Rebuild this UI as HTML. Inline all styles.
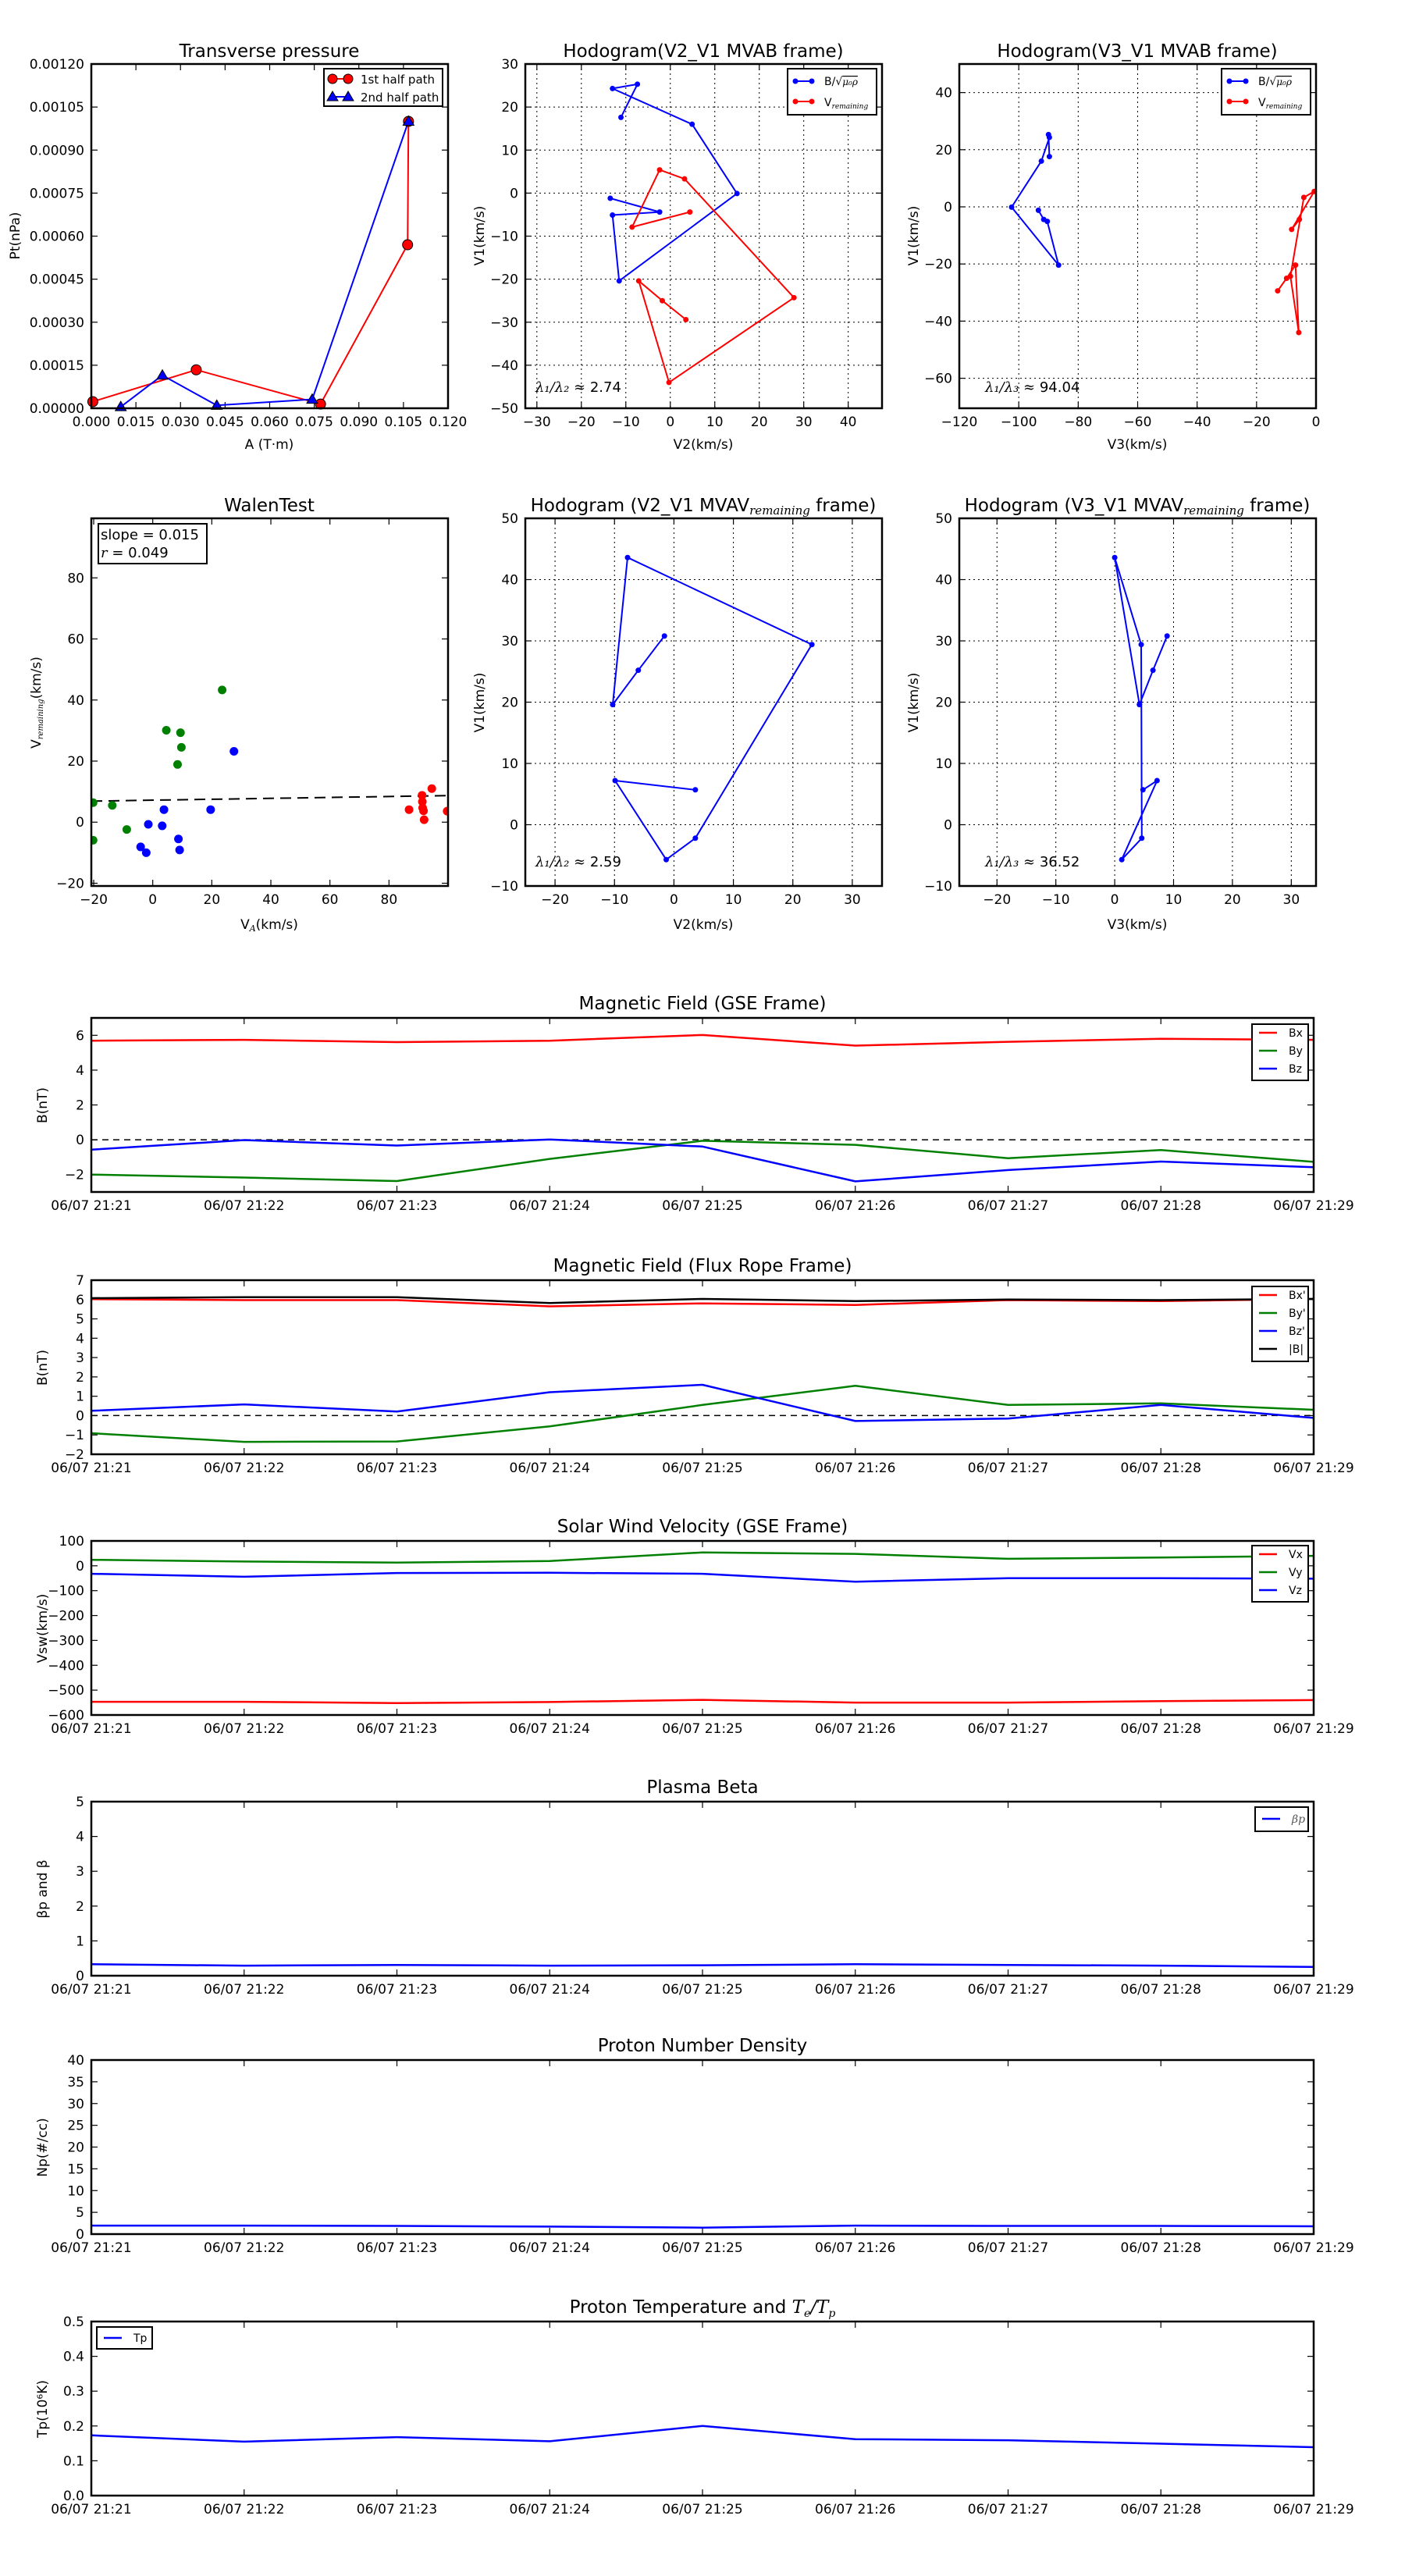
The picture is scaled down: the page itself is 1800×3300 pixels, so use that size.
<!DOCTYPE html>
<html><head><meta charset="utf-8"><title>Flux rope analysis</title>
<style>
html,body{margin:0;padding:0;background:#fff;}
svg{display:block;font-family:"DejaVu Sans","Liberation Sans",sans-serif;}
</style></head>
<body>
<svg id="fig" xmlns="http://www.w3.org/2000/svg" width="1800" height="3300" viewBox="0 0 1800 3300">
<rect x="0" y="0" width="1800" height="3300" fill="#fff"/>
</svg>
<script>
// ---------- DATA ----------
const tp1A = [0.0005, 0.0353, 0.0771, 0.1064, 0.1067];
const tp1P = [0.000023, 0.000134, 0.0000146, 0.00057, 0.001];
const tp2A = [0.0099, 0.0239, 0.0422, 0.0743, 0.1067];
const tp2P = [0.000005, 0.000115, 0.00001, 0.000031, 0.001];
const mvabB_V2 = [-11.1, -7.4, -13.0, 4.9, 15.0, -11.5, -13.0, -2.4, -13.5];
const mvabB_V1 = [17.6, 25.3, 24.3, 16.0, -0.1, -20.4, -5.1, -4.4, -1.2];
const mvabV_V2 = [4.4, -8.6, -2.4, 3.2, 27.8, -0.3, -7.1, -1.8, 3.5];
const mvabV_V1 = [-4.4, -7.9, 5.4, 3.3, -24.3, -44.0, -20.4, -25.0, -29.4];
const mvabB_V3 = [-89.7, -90.0, -89.7, -92.4, -102.4, -86.6, -90.4, -91.6, -93.4];
const mvabV_V3 = [-5.6, -8.2, -0.6, -4.1, -8.6, -5.8, -6.9, -9.9, -12.9];
const mvav_V2 = [-1.6, -6.0, -10.3, -7.8, 23.2, 3.6, -1.3, -9.9, 3.6];
const mvav_V3 = [8.9, 6.5, 4.2, 0.0, 4.5, 4.6, 1.2, 7.2, 4.8];
const mvav_V1 = [30.8, 25.2, 19.6, 43.6, 29.4, -2.2, -5.7, 7.2, 5.7];
const walenGx = [-20.2, -20.2, -13.7, -8.8, 4.6, 9.4, 9.7, 8.4, 23.5];
const walenGy = [6.4, -5.9, 5.5, -2.4, 30.1, 29.3, 24.5, 18.9, 43.3];
const walenBx = [-4.1, -2.2, -1.5, 3.2, 3.8, 8.7, 9.1, 19.6, 27.5];
const walenBy = [-8.1, -10.0, -0.7, -1.2, 4.1, -5.5, -9.1, 4.1, 23.2];
const walenRx = [86.8, 91.2, 91.3, 91.4, 91.7, 91.9, 94.5, 99.7];
const walenRy = [4.1, 8.8, 6.7, 4.7, 3.7, 0.8, 11.0, 3.6];
const walenSlope = 0.015;
const walenIntercept = 7.2;
const timeLabels = ["06/07 21:21","06/07 21:22","06/07 21:23","06/07 21:24","06/07 21:25","06/07 21:26","06/07 21:27","06/07 21:28","06/07 21:29"];
const gseBx = [5.69, 5.74, 5.61, 5.69, 6.02, 5.41, 5.63, 5.80, 5.74];
const gseBy = [-2.0, -2.17, -2.37, -1.10, -0.06, -0.29, -1.06, -0.59, -1.27];
const gseBz = [-0.57, -0.02, -0.33, 0.02, -0.39, -2.39, -1.74, -1.25, -1.58];
const frBx = [6.02, 5.97, 5.97, 5.65, 5.80, 5.72, 5.97, 5.92, 6.03];
const frBy = [-0.91, -1.36, -1.34, -0.56, 0.55, 1.54, 0.55, 0.63, 0.30];
const frBz = [0.25, 0.58, 0.21, 1.21, 1.59, -0.28, -0.15, 0.55, -0.12];
const frBt = [6.07, 6.12, 6.12, 5.82, 6.03, 5.92, 6.0, 5.97, 6.03];
const vswX = [-547, -547, -552, -548, -539, -550, -550, -544, -540];
const vswY = [24, 17, 13, 19, 54, 48, 28, 33, 40];
const vswZ = [-32, -44, -29, -28, -32, -64, -50, -50, -52];
const betaP = [0.33, 0.29, 0.31, 0.29, 0.30, 0.33, 0.31, 0.29, 0.25];
const npData = [1.95, 1.95, 1.88, 1.72, 1.48, 1.95, 1.88, 1.88, 1.8];
const tpData = [0.173, 0.155, 0.168, 0.156, 0.200, 0.162, 0.159, 0.149, 0.139];

// ---------- HELPERS ----------
const NS = 'http://www.w3.org/2000/svg';
const svg = document.getElementById('fig');
function mk(tag, parent, name, attrs) {
  const el = document.createElementNS(NS, tag);
  
  
  for (const k in attrs) el.setAttribute(k, attrs[k]);
  parent.appendChild(el);
  return el;
}
function txt(parent, name, x, y, s, size, anchor, extra) {
  const t = mk('text', parent, name, Object.assign({x: x, y: y, 'font-size': size, 'text-anchor': anchor || 'start', fill: '#000'}, extra || {}));
  t.textContent = s;
  return t;
}
function fmtNum(v, d) { const s = Math.abs(v).toFixed(d); return (v < -1e-12 ? '\u2212' : '') + s; }

function axes(o) {
  const g = mk('g', svg, o.name, {});
  const sx = v => o.x + (v - o.xmin) / (o.xmax - o.xmin) * o.w;
  const sy = v => o.y + o.h - (v - o.ymin) / (o.ymax - o.ymin) * o.h;
  mk('rect', g, 'plot-area', {x: o.x, y: o.y, width: o.w, height: o.h, fill: '#fff'});
  const cid = 'clip-' + o.name;
  const cp = mk('clipPath', g, 'clip', {id: cid});
  mk('rect', cp, 'clip-rect', {x: o.x, y: o.y, width: o.w, height: o.h});
  if (o.grid) {
    o.xticks.forEach(v => { const X = sx(v); mk('line', g, 'x-grid-line', {x1: X, x2: X, y1: o.y, y2: o.y + o.h, stroke: '#000', 'stroke-width': 1, 'stroke-dasharray': '2,4'}); });
    o.yticks.forEach(v => { const Y = sy(v); mk('line', g, 'y-grid-line', {x1: o.x, x2: o.x + o.w, y1: Y, y2: Y, stroke: '#000', 'stroke-width': 1, 'stroke-dasharray': '2,4'}); });
  }
  const tl = 8;
  o.xticks.forEach((v, i) => {
    const X = sx(v);
    mk('line', g, 'x-tick', {x1: X, x2: X, y1: o.y + o.h, y2: o.y + o.h - tl, stroke: '#000', 'stroke-width': 1.2});
    mk('line', g, 'x-tick-top', {x1: X, x2: X, y1: o.y, y2: o.y + tl, stroke: '#000', 'stroke-width': 1.2});
    const lab = o.xlabels ? o.xlabels[i] : o.xfmt(v);
    txt(g, 'x-tick-label', X, o.y + o.h + 23, lab, 17, 'middle');
  });
  o.yticks.forEach(v => {
    const Y = sy(v);
    mk('line', g, 'y-tick', {x1: o.x, x2: o.x + tl, y1: Y, y2: Y, stroke: '#000', 'stroke-width': 1.2});
    mk('line', g, 'y-tick-right', {x1: o.x + o.w, x2: o.x + o.w - tl, y1: Y, y2: Y, stroke: '#000', 'stroke-width': 1.2});
    txt(g, 'y-tick-label', o.x - 9, Y + 6, o.yfmt(v), 17, 'end');
  });
  const data = mk('g', g, 'data-layer', o.clip ? {'clip-path': 'url(#' + cid + ')'} : {});
  const frame = () => mk('rect', g, 'axes-frame', {x: o.x, y: o.y, width: o.w, height: o.h, fill: 'none', stroke: '#000', 'stroke-width': 2.5});
  return {g, sx, sy, data, frame, o};
}
function polyline(ax, xs, ys, color, name, w) {
  const pts = xs.map((v, i) => ax.sx(v).toFixed(1) + ',' + ax.sy(ys[i]).toFixed(1)).join(' ');
  return mk('polyline', ax.data, name, {points: pts, fill: 'none', stroke: color, 'stroke-width': w || 2, 'stroke-linejoin': 'round'});
}
function dots(ax, xs, ys, color, name, r, stroke) {
  xs.forEach((v, i) => {
    const c = mk('circle', ax.data, name, {cx: ax.sx(v), cy: ax.sy(ys[i]), r: r, fill: color});
    if (stroke) { c.setAttribute('stroke', '#000'); c.setAttribute('stroke-width', 1); }
  });
}
function tris(ax, xs, ys, color, name) {
  xs.forEach((v, i) => {
    const X = ax.sx(v), Y = ax.sy(ys[i]);
    mk('polygon', ax.data, name, {points: (X) + ',' + (Y - 7) + ' ' + (X - 7) + ',' + (Y + 5) + ' ' + (X + 7) + ',' + (Y + 5), fill: color, stroke: '#000', 'stroke-width': 1});
  });
}
function title(x, y, s, name) { return txt(svg, name, x, y, s, 23, 'middle'); }
function xlabel(x, y, s, name) { return txt(svg, name, x, y, s, 17, 'middle'); }
function ylabel(x, y, s, name) { return txt(svg, name, x, y, s, 17, 'middle', {transform: 'rotate(-90 ' + x + ' ' + y + ')'}); }
function range(a, b, s) { const r = []; for (let v = a; v <= b + 1e-9; v += s) r.push(+v.toFixed(8)); return r; }

// ---------- ROW 1 ----------
(function () {
  const ax = axes({name: 'transverse-pressure-chart', x: 117, y: 82, w: 457, h: 441, xmin: 0, xmax: 0.12, ymin: 0, ymax: 0.0012,
    xticks: range(0, 0.12, 0.015), yticks: range(0, 0.0012, 0.00015), xfmt: v => v.toFixed(3), yfmt: v => v.toFixed(5)});
  polyline(ax, tp1A, tp1P, '#f00', 'first-half-line');
  polyline(ax, tp2A, tp2P, '#00f', 'second-half-line');
  dots(ax, tp1A, tp1P, '#f00', 'first-half-marker', 6.5, true);
  tris(ax, tp2A, tp2P, '#00f', 'second-half-marker');
  ax.frame();
  const lg = mk('g', svg, 'legend', {});
  mk('rect', lg, 'legend-box', {x: 415, y: 88, width: 152, height: 48, fill: '#fff', stroke: '#000', 'stroke-width': 2});
  mk('line', lg, 'legend-line-first', {x1: 426, x2: 446, y1: 101, y2: 101, stroke: '#f00', 'stroke-width': 2});
  mk('circle', lg, 'legend-marker-first', {cx: 426, cy: 101, r: 6, fill: '#f00', stroke: '#000'});
  mk('circle', lg, 'legend-marker-first', {cx: 446, cy: 101, r: 6, fill: '#f00', stroke: '#000'});
  txt(lg, 'legend-entry-first', 462, 107, '1st half path', 15);
  mk('line', lg, 'legend-line-second', {x1: 426, x2: 446, y1: 124, y2: 124, stroke: '#00f', 'stroke-width': 2});
  mk('polygon', lg, 'legend-marker-second', {points: '426,117 419,129 433,129', fill: '#00f', stroke: '#000'});
  mk('polygon', lg, 'legend-marker-second', {points: '446,117 439,129 453,129', fill: '#00f', stroke: '#000'});
  txt(lg, 'legend-entry-second', 462, 130, '2nd half path', 15);
  title(345, 73, 'Transverse pressure', 'chart-title');
  xlabel(345, 575, 'A (T\u00b7m)', 'x-axis-title');
  ylabel(25, 302, 'Pt(nPa)', 'y-axis-title');
})();

function hodoLegend(x0, y0) {
  const lg = mk('g', svg, 'legend', {});
  mk('rect', lg, 'legend-box', {x: x0, y: y0, width: 114, height: 59, fill: '#fff', stroke: '#000', 'stroke-width': 2});
  mk('line', lg, 'legend-line-b', {x1: x0 + 10, x2: x0 + 31, y1: y0 + 16, y2: y0 + 16, stroke: '#00f', 'stroke-width': 2});
  mk('circle', lg, 'legend-marker-b', {cx: x0 + 10, cy: y0 + 16, r: 3.5, fill: '#00f'});
  mk('circle', lg, 'legend-marker-b', {cx: x0 + 31, cy: y0 + 16, r: 3.5, fill: '#00f'});
  const t1 = txt(lg, 'legend-entry-b', x0 + 47, y0 + 21, 'B/\u221a', 14);
  const s1 = mk('tspan', t1, 'legend-entry-b-sub', {'font-style': 'italic', 'font-family': 'DejaVu Serif, serif', 'font-size': 12, 'text-decoration': 'overline'});
  s1.textContent = '\u03bc\u2080\u03c1';
  mk('line', lg, 'legend-line-v', {x1: x0 + 10, x2: x0 + 31, y1: y0 + 42, y2: y0 + 42, stroke: '#f00', 'stroke-width': 2});
  mk('circle', lg, 'legend-marker-v', {cx: x0 + 10, cy: y0 + 42, r: 3.5, fill: '#f00'});
  mk('circle', lg, 'legend-marker-v', {cx: x0 + 31, cy: y0 + 42, r: 3.5, fill: '#f00'});
  const t2 = txt(lg, 'legend-entry-v', x0 + 47, y0 + 48, 'V', 14);
  const s2 = mk('tspan', t2, 'legend-entry-v-sub', {'font-style': 'italic', 'font-family': 'DejaVu Serif, serif', 'font-size': 9, dy: 3});
  s2.textContent = 'remaining';
}
function ratioText(x, y, l, v) {
  const t = txt(svg, 'eigenvalue-ratio', x, y, '', 18);
  const a = mk('tspan', t, 'ratio-symbol', {'font-style': 'italic', 'font-family': 'DejaVu Serif, serif'});
  a.textContent = '\u03bb\u2081/' + '\u03bb' + l + ' \u2248 ';
  const b = mk('tspan', t, 'ratio-value', {});
  b.textContent = v;
}

(function () {
  const ax = axes({name: 'hodogram-v2-v1-mvab', x: 673, y: 82, w: 457, h: 441, xmin: -32.6, xmax: 47.6, ymin: -50, ymax: 30, grid: true,
    xticks: range(-30, 40, 10), yticks: range(-50, 30, 10), xfmt: v => fmtNum(v, 0), yfmt: v => fmtNum(v, 0)});
  polyline(ax, mvabB_V2, mvabB_V1, '#00f', 'b-hodogram-line');
  dots(ax, mvabB_V2, mvabB_V1, '#00f', 'b-hodogram-point', 3.5);
  polyline(ax, mvabV_V2, mvabV_V1, '#f00', 'v-hodogram-line');
  dots(ax, mvabV_V2, mvabV_V1, '#f00', 'v-hodogram-point', 3.5);
  ax.frame();
  hodoLegend(1009, 88);
  ratioText(686, 502, '\u2082', '2.74');
  title(901, 73, 'Hodogram(V2_V1 MVAB frame)', 'chart-title');
  xlabel(901, 575, 'V2(km/s)', 'x-axis-title');
  ylabel(620, 302, 'V1(km/s)', 'y-axis-title');
})();

(function () {
  const ax = axes({name: 'hodogram-v3-v1-mvab', x: 1229, y: 82, w: 457, h: 441, xmin: -120, xmax: 0, ymin: -70.5, ymax: 50, grid: true,
    xticks: range(-120, 0, 20), yticks: range(-60, 40, 20), xfmt: v => fmtNum(v, 0), yfmt: v => fmtNum(v, 0)});
  polyline(ax, mvabB_V3, mvabB_V1, '#00f', 'b-hodogram-line');
  dots(ax, mvabB_V3, mvabB_V1, '#00f', 'b-hodogram-point', 3.5);
  polyline(ax, mvabV_V3, mvabV_V1, '#f00', 'v-hodogram-line');
  dots(ax, mvabV_V3, mvabV_V1, '#f00', 'v-hodogram-point', 3.5);
  ax.frame();
  hodoLegend(1565, 88);
  ratioText(1262, 502, '\u2083', '94.04');
  title(1457, 73, 'Hodogram(V3_V1 MVAB frame)', 'chart-title');
  xlabel(1457, 575, 'V3(km/s)', 'x-axis-title');
  ylabel(1176, 302, 'V1(km/s)', 'y-axis-title');
})();

// ---------- ROW 2 ----------
(function () {
  const ax = axes({name: 'walen-test-chart', x: 117, y: 664, w: 457, h: 471, xmin: -20.8, xmax: 100, ymin: -20.9, ymax: 99.5, clip: true,
    xticks: range(-20, 80, 20), yticks: range(-20, 80, 20), xfmt: v => fmtNum(v, 0), yfmt: v => fmtNum(v, 0)});
  const fx = [ax.o.xmin, ax.o.xmax];
  const fy = fx.map(v => walenIntercept + walenSlope * v);
  const fl = polyline(ax, fx, fy, '#000', 'fit-line', 2);
  fl.setAttribute('stroke-dasharray', '14,8');
  dots(ax, walenGx, walenGy, '#008000', 'walen-point-green', 5.5);
  dots(ax, walenBx, walenBy, '#00f', 'walen-point-blue', 5.5);
  dots(ax, walenRx, walenRy, '#f00', 'walen-point-red', 5.5);
  ax.frame();
  const bx = mk('g', svg, 'fit-stats-box', {});
  mk('rect', bx, 'stats-box-frame', {x: 126, y: 671, width: 139, height: 51, fill: '#fff', stroke: '#000', 'stroke-width': 2});
  txt(bx, 'slope-text', 129, 691, 'slope = ' + walenSlope.toFixed(3), 18);
  const rt = txt(bx, 'r-text', 129, 714, '', 18);
  const ri = mk('tspan', rt, 'r-symbol', {'font-style': 'italic', 'font-family': 'DejaVu Serif, serif'});
  ri.textContent = 'r';
  const rv = mk('tspan', rt, 'r-value', {});
  rv.textContent = ' = 0.049';
  title(345, 655, 'WalenTest', 'chart-title');
  const xl = xlabel(345, 1190, 'V', 'x-axis-title');
  const xs = mk('tspan', xl, 'x-axis-title-sub', {'font-style': 'italic', 'font-family': 'DejaVu Serif, serif', 'font-size': 11, dy: 3});
  xs.textContent = 'A';
  const xr = mk('tspan', xl, 'x-axis-title-unit', {dy: -3});
  xr.textContent = '(km/s)';
  const yl = ylabel(52, 900, 'V', 'y-axis-title');
  const ys = mk('tspan', yl, 'y-axis-title-sub', {'font-style': 'italic', 'font-family': 'DejaVu Serif, serif', 'font-size': 10, dy: 3});
  ys.textContent = 'remaining';
  const yr = mk('tspan', yl, 'y-axis-title-unit', {dy: -3});
  yr.textContent = '(km/s)';
})();

function mvavTitle(x, s1, s2) {
  const t = title(x, 655, s1, 'chart-title');
  const sub = mk('tspan', t, 'chart-title-sub', {'font-style': 'italic', 'font-family': 'DejaVu Serif, serif', 'font-size': 15, dy: 4});
  sub.textContent = 'remaining';
  const rest = mk('tspan', t, 'chart-title-rest', {dy: -4});
  rest.textContent = s2;
}
(function () {
  const ax = axes({name: 'hodogram-v2-v1-mvav', x: 673, y: 664, w: 457, h: 471, xmin: -25, xmax: 35, ymin: -10, ymax: 50, grid: true,
    xticks: range(-20, 30, 10), yticks: range(-10, 50, 10), xfmt: v => fmtNum(v, 0), yfmt: v => fmtNum(v, 0)});
  polyline(ax, mvav_V2, mvav_V1, '#00f', 'hodogram-line');
  dots(ax, mvav_V2, mvav_V1, '#00f', 'hodogram-point', 3.5);
  ax.frame();
  ratioText(686, 1110, '\u2082', '2.59');
  mvavTitle(901, 'Hodogram (V2_V1 MVAV', ' frame)');
  xlabel(901, 1190, 'V2(km/s)', 'x-axis-title');
  ylabel(620, 900, 'V1(km/s)', 'y-axis-title');
})();
(function () {
  const ax = axes({name: 'hodogram-v3-v1-mvav', x: 1229, y: 664, w: 457, h: 471, xmin: -26.4, xmax: 34.2, ymin: -10, ymax: 50, grid: true,
    xticks: range(-20, 30, 10), yticks: range(-10, 50, 10), xfmt: v => fmtNum(v, 0), yfmt: v => fmtNum(v, 0)});
  polyline(ax, mvav_V3, mvav_V1, '#00f', 'hodogram-line');
  dots(ax, mvav_V3, mvav_V1, '#00f', 'hodogram-point', 3.5);
  ax.frame();
  ratioText(1262, 1110, '\u2083', '36.52');
  mvavTitle(1457, 'Hodogram (V3_V1 MVAV', ' frame)');
  xlabel(1457, 1190, 'V3(km/s)', 'x-axis-title');
  ylabel(1176, 900, 'V1(km/s)', 'y-axis-title');
})();

// ---------- TIME SERIES ----------
const tIdx = timeLabels.map((_, i) => i);
function tsPanel(o) {
  const ax = axes({name: o.name, x: 117, y: o.y, w: 1566, h: 223, xmin: 0, xmax: 8, ymin: o.ymin, ymax: o.ymax, clip: true,
    xticks: tIdx, xlabels: timeLabels, yticks: o.yticks, xfmt: v => v, yfmt: o.yfmt});
  if (o.zero) {
    const z = polyline(ax, [0, 8], [0, 0], '#000', 'zero-line', 1.5);
    z.setAttribute('stroke-dasharray', '8,6');
  }
  o.series.forEach(s => polyline(ax, tIdx, s.v, s.c, s.n, 2.5));
  ax.frame();
  if (o.legend) {
    const L = o.legend;
    const lg = mk('g', svg, 'legend', {});
    const h = 14 + 23 * o.series.length;
    mk('rect', lg, 'legend-box', {x: L.x, y: L.y, width: L.w, height: L.h || h, fill: '#fff', stroke: '#000', 'stroke-width': 2});
    o.series.forEach((s, i) => {
      const yy = L.y + 11 + 23 * i + (L.dy || 0);
      mk('line', lg, 'legend-swatch', {x1: L.x + 9, x2: L.x + 32, y1: yy, y2: yy, stroke: s.c, 'stroke-width': 2.5});
      const t = txt(lg, 'legend-entry', L.x + 47, yy + 5, s.label, 14);
      if (s.italic) { t.setAttribute('font-style', 'italic'); t.setAttribute('font-family', 'DejaVu Serif, serif'); t.setAttribute('fill', '#555'); }
    });
  }
  const tt = title(900, o.y - 11, o.title, 'chart-title');
  ylabel(60, o.y + 112, o.ylabel, 'y-axis-title');
  return tt;
}
tsPanel({name: 'magnetic-field-gse-chart', y: 1304, ymin: -3, ymax: 7, yticks: [-2, 0, 2, 4, 6], yfmt: v => v < 0 ? '\u2212' + (-v) : '' + v, zero: true,
  title: 'Magnetic Field (GSE Frame)', ylabel: 'B(nT)',
  series: [{v: gseBx, c: '#f00', n: 'bx-line', label: 'Bx'}, {v: gseBy, c: '#008000', n: 'by-line', label: 'By'}, {v: gseBz, c: '#00f', n: 'bz-line', label: 'Bz'}],
  legend: {x: 1604, y: 1312, w: 72, h: 72}});
tsPanel({name: 'magnetic-field-flux-rope-chart', y: 1640, ymin: -2, ymax: 7, yticks: range(-2, 7, 1), yfmt: v => v < 0 ? '\u2212' + (-v) : '' + v, zero: true,
  title: 'Magnetic Field (Flux Rope Frame)', ylabel: 'B(nT)',
  series: [{v: frBx, c: '#f00', n: 'bx-prime-line', label: "Bx'"}, {v: frBy, c: '#008000', n: 'by-prime-line', label: "By'"}, {v: frBz, c: '#00f', n: 'bz-prime-line', label: "Bz'"}, {v: frBt, c: '#000', n: 'b-total-line', label: '|B|'}],
  legend: {x: 1604, y: 1648, w: 72, h: 96}});
tsPanel({name: 'solar-wind-velocity-chart', y: 1974, ymin: -600, ymax: 100, yticks: range(-600, 100, 100), yfmt: v => v < 0 ? '\u2212' + (-v) : '' + v,
  title: 'Solar Wind Velocity (GSE Frame)', ylabel: 'Vsw(km/s)',
  series: [{v: vswX, c: '#f00', n: 'vx-line', label: 'Vx'}, {v: vswY, c: '#008000', n: 'vy-line', label: 'Vy'}, {v: vswZ, c: '#00f', n: 'vz-line', label: 'Vz'}],
  legend: {x: 1604, y: 1980, w: 72, h: 72}});
tsPanel({name: 'plasma-beta-chart', y: 2308, ymin: 0, ymax: 5, yticks: range(0, 5, 1), yfmt: v => '' + v,
  title: 'Plasma Beta', ylabel: '\u03b2p and \u03b2',
  series: [{v: betaP, c: '#00f', n: 'beta-p-line', label: '\u03b2p', italic: true}],
  legend: {x: 1608, y: 2315, w: 68, h: 31, dy: 4}});
tsPanel({name: 'proton-density-chart', y: 2639, ymin: 0, ymax: 40, yticks: range(0, 40, 5), yfmt: v => '' + v,
  title: 'Proton Number Density', ylabel: 'Np(#/cc)',
  series: [{v: npData, c: '#00f', n: 'np-line', label: 'Np'}]});
const tpTitle = tsPanel({name: 'proton-temperature-chart', y: 2974, ymin: 0, ymax: 0.5, yticks: range(0, 0.5, 0.1), yfmt: v => v.toFixed(1),
  title: 'Proton Temperature and ', ylabel: 'Tp(10\u2076K)',
  series: [{v: tpData, c: '#00f', n: 'tp-line', label: 'Tp'}],
  legend: {x: 124, y: 2981, w: 71, h: 28, dy: 3}});
const m1 = mk('tspan', tpTitle, 'title-math-te', {'font-style': 'italic', 'font-family': 'DejaVu Serif, serif'});
m1.textContent = 'T';
const m2 = mk('tspan', tpTitle, 'title-math-e', {'font-style': 'italic', 'font-family': 'DejaVu Serif, serif', 'font-size': 14, dy: 5});
m2.textContent = 'e';
const m3 = mk('tspan', tpTitle, 'title-math-slash', {'font-style': 'italic', 'font-family': 'DejaVu Serif, serif', dy: -5});
m3.textContent = '/T';
const m4 = mk('tspan', tpTitle, 'title-math-p', {'font-style': 'italic', 'font-family': 'DejaVu Serif, serif', 'font-size': 14, dy: 5});
m4.textContent = 'p';
</script>
</body></html>
